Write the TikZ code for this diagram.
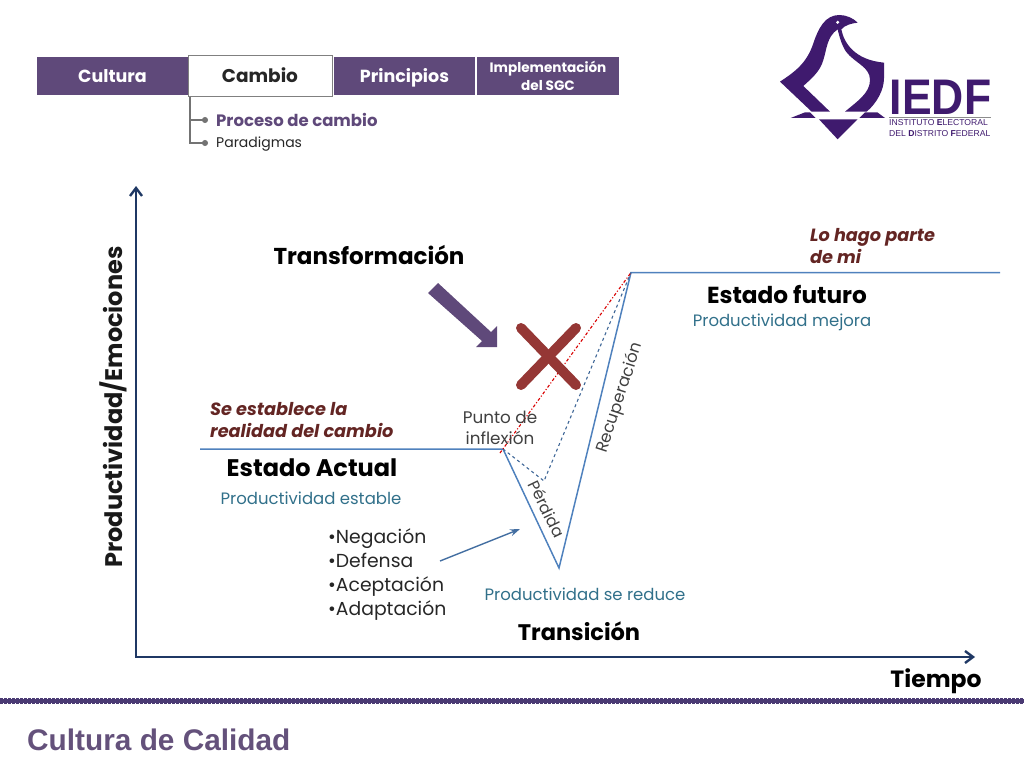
\documentclass[tikz,border=0pt]{standalone}
\usepackage{fontspec}
\setmainfont{Poppins}
\newfontfamily\logofont{Liberation Sans}
\usetikzlibrary{arrows.meta, shapes.geometric}
\definecolor{tabpurple}{HTML}{5F497A}
\definecolor{linepurple}{HTML}{4A3A73}
\definecolor{logopurple}{HTML}{3F1A6E}
\definecolor{curveblue}{HTML}{4F81BD}
\definecolor{axisnavy}{HTML}{1F3864}
\definecolor{noteteal}{HTML}{31708A}
\definecolor{notered}{HTML}{632523}
\definecolor{crossred}{HTML}{953735}
\tikzset{
    tabbox/.style={fill=tabpurple,text=white,minimum height=38pt,inner sep=0pt,align=center},
    tabtext/.style={font=\fontsize{17.5}{20}\selectfont\bfseries,text height=13.5pt,text depth=0pt},
    headlabel/.style={font=\fontsize{23.5}{25}\selectfont\bfseries,inner sep=0pt},
    tealnote/.style={font=\fontsize{16.5}{18}\selectfont,text=noteteal,inner sep=0pt},
    rednote/.style={font=\fontsize{17.7}{22}\selectfont\bfseries\itshape,text=notered,inner sep=0pt,align=left,anchor=west},
    graylabel/.style={font=\fontsize{16.8}{21}\selectfont,text=black!75,inner sep=0pt,align=center},
    treeline/.style={draw=black!55,line width=1.2pt,-{Circle[length=6pt,width=6pt]}}
}
\begin{document}
\begin{tikzpicture}[x=1pt,y=-1pt]
    \useasboundingbox (0,0) rectangle (1024,768);
    % Tabs on top
    \node[tabbox,tabtext,minimum width=151pt] (cultura) at (112.5,76) {Cultura};
    \node[tabtext,draw=black!50,line width=1pt,fill=white,text=black!85,minimum width=144pt,minimum height=41pt,inner sep=0pt,font=\fontsize{18.5}{20}\selectfont\bfseries] (cambio) at (260,76) {Cambio};
    \node[tabbox,tabtext,minimum width=141pt] (principios) at (404.5,76) {Principios};
    \node[tabbox,minimum width=142pt,font=\fontsize{13.6}{18}\selectfont\bfseries] (sgc) at (548,76) {Implementación\\del SGC};
    % Tree under the tab
    \node[font=\fontsize{16.5}{18}\selectfont\bfseries,text=tabpurple,anchor=west,inner sep=0pt] (proceso) at (216,120) {Proceso de cambio};
    \node[font=\fontsize{14}{15}\selectfont,text=black!85,anchor=west,inner sep=0pt] (paradigmas) at (216,144) {Paradigmas};
    \coordinate (treetop) at (190,97);
    \coordinate (dotone) at (208,120);
    \coordinate (dottwo) at (208,143);
    \draw[treeline] (treetop) |- (dotone);
    \draw[treeline] (treetop) |- (dottwo);
    % Logo
    \begin{scope}[shift={(770,0)},x=0.3333pt,y=-0.3333pt]
        \fill[logopurple] (30,245) .. controls (75,215) and (110,190) .. (130,130)
            .. controls (145,85) and (165,45) .. (208,45)
            .. controls (230,45) and (250,55) .. (263,68)
            .. controls (245,70) and (225,75) .. (214,88)
            .. controls (222,130) and (255,180) .. (342,188)
            -- (342,235) .. controls (342,270) and (320,310) .. (290,335)
            -- (225,335) .. controls (260,305) and (300,280) .. (300,240)
            .. controls (300,200) and (255,190) .. (228,155)
            .. controls (215,135) and (208,110) .. (203,88)
            .. controls (170,110) and (170,150) .. (160,180)
            .. controls (150,215) and (125,235) .. (100,258)
            -- (180,335) -- (125,335) -- cycle;
        \fill[white] (203,67) circle (5);
        \fill[logopurple] (62,354) -- (105,337) -- (120,337) -- (137,354) -- cycle;
        \fill[logopurple] (268,354) -- (285,337) -- (322,337) -- (345,354) -- cycle;
        \fill[logopurple] (147,358) -- (263,358) -- (203,418) -- cycle;
        \draw[black!45,line width=0.6pt] (358,352) -- (662,352);
    \end{scope}
    \node[font=\logofont\fontsize{50}{50}\selectfont\bfseries,text=logopurple,inner sep=0pt,xscale=0.89] (iedf) at (940.5,97) {IEDF};
    \node[font=\logofont\fontsize{8.6}{11}\selectfont,text=logopurple,inner sep=0pt,align=left,anchor=north west] (iedfname) at (889,119.5) {INSTITUTO \textbf{E}LECTORAL\\DEL \textbf{D}ISTRITO \textbf{F}EDERAL};
    % Axes
    \coordinate (origin) at (136,657);
    \coordinate (ytop) at (136,186);
    \coordinate (xend) at (975,657);
    \draw[axisnavy,line width=2.4pt,{Straight Barb[length=8pt,width=12pt]}-{Straight Barb[length=8pt,width=12pt]}] (ytop) -- (origin) -- (xend);
    \node[font=\fontsize{24}{26}\selectfont\bfseries,inner sep=0pt,rotate=90,text=black!90] (ylabel) at (113,407) {Productividad/Emociones};
    \node[headlabel] (tiempo) at (936,681) {Tiempo};
    % Curve
    \coordinate (start) at (200,449);
    \coordinate (inflexion) at (503,449);
    \coordinate (bottom) at (559,568);
    \coordinate (peak) at (631,272.5);
    \coordinate (finish) at (1000,272.5);
    \coordinate (shallow) at (544,481);
    \coordinate (redstart) at (500,453);
    \draw[curveblue,line width=1.5pt] (start) -- (inflexion) -- (bottom) -- (peak) -- (finish);
    \draw[curveblue!80!black,line width=1.1pt,dashed] (inflexion) -- (shallow) -- (peak);
    \draw[red!85!black,line width=1.1pt,dash dot] (redstart) -- (peak);
    % Big arrow and cross
    \fill[tabpurple] (428,293) -- (438,283) -- (491,332) -- (497,326) -- (497,347) -- (476,347) -- (482,341) -- cycle;
    \draw[crossred,line width=10pt,line cap=round] (521,328) -- (576,385);
    \draw[crossred,line width=10pt,line cap=round] (576,328) -- (521,385);
    % Labels of the chart
    \node[headlabel,font=\fontsize{23}{25}\selectfont\bfseries] (transformacion) at (369,255) {Transformación};
    \node[rednote] (parte) at (810,246) {Lo hago parte\\de mi};
    \node[headlabel,font=\fontsize{23.2}{25}\selectfont\bfseries] (futuro) at (787,294) {Estado futuro};
    \node[tealnote] (mejora) at (782,322) {Productividad mejora};
    \node[rednote] (realidad) at (210,420) {Se establece la\\realidad del cambio};
    \node[headlabel,font=\fontsize{24}{26}\selectfont\bfseries] (actual) at (312,468) {Estado Actual};
    \node[tealnote] (estable) at (311,498) {Productividad estable};
    \node[tealnote] (reduce) at (585,594) {Productividad se reduce};
    \node[headlabel,font=\fontsize{22.5}{25}\selectfont\bfseries] (transicion) at (579,631) {Transición};
    \node[graylabel] (punto) at (500,428) {Punto de\\inflexión};
    \node[graylabel,rotate=72,font=\fontsize{16.5}{18}\selectfont] (recuperacion) at (620,398) {Recuperación};
    \node[graylabel,rotate=-64,font=\fontsize{16}{18}\selectfont] (perdida) at (547,509) {Pérdida};
    \node[font=\fontsize{18.8}{24}\selectfont,text=black!85,inner sep=0pt,align=left,anchor=west] (etapas) at (328,575) {•Negación\\•Defensa\\•Aceptación\\•Adaptación};
    \coordinate (listout) at (440,561);
    \coordinate (listin) at (520,529);
    \draw[curveblue!85!black,line width=1.4pt,-{Stealth[length=10pt,width=7pt]}] (listout) -- (listin);
    % Footer
    \coordinate (footleft) at (0,701);
    \coordinate (footright) at (1024,701);
    \draw[linepurple,line width=4pt] (footleft) -- (footright);
    \draw[linepurple,line width=6.5pt,dash pattern=on 2.5pt off 1.5pt] (footleft) -- (footright);
    \node[font=\logofont\fontsize{29.8}{32}\selectfont\bfseries,text=tabpurple!85!gray,anchor=west,inner sep=0pt] (calidad) at (27,740) {Cultura de Calidad};
\end{tikzpicture}
\end{document}
